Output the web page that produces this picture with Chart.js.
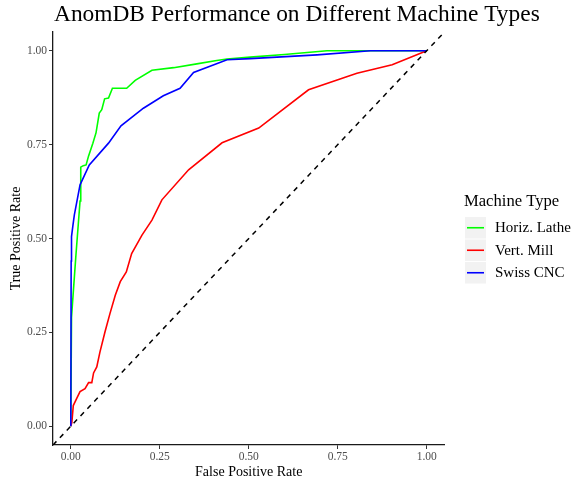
<!DOCTYPE html>
<html>
<head>
<meta charset="utf-8">
<script src="https://cdn.jsdelivr.net/npm/chart.js@4/dist/chart.umd.min.js"></script>
<style>
  html, body { margin: 0; padding: 0; background: #ffffff; }
  #wrap { width: 574px; height: 483px; position: relative; }
</style>
</head>
<body>
<div id="wrap"><canvas id="roc" width="574" height="483"></canvas></div>
<script>
// ROC curves per machine type (false positive rate vs true positive rate)
const chartTitle = 'AnomDB Performance on Different Machine Types';
const legendTitle = 'Machine Type';
const seriesNames = ['Horiz. Lathe', 'Vert. Mill', 'Swiss CNC'];
const seriesColors = ['#00FF00', '#FF0000', '#0000FF'];

const latheFpr = [0, 0.002, 0.014, 0.026, 0.028, 0.035, 0.043, 0.050, 0.062, 0.071, 0.080, 0.087, 0.095, 0.106, 0.117, 0.157, 0.181, 0.228, 0.289, 0.354, 0.410, 0.439, 0.504, 0.600, 0.720, 1.0];
const latheTpr = [0, 0.290, 0.450, 0.600, 0.690, 0.694, 0.696, 0.720, 0.754, 0.782, 0.834, 0.843, 0.872, 0.874, 0.900, 0.900, 0.921, 0.948, 0.955, 0.965, 0.974, 0.978, 0.983, 0.990, 1.0, 1.0];

const millFpr = [0, 0.003, 0.007, 0.017, 0.026, 0.040, 0.050, 0.059, 0.064, 0.073, 0.082, 0.096, 0.110, 0.125, 0.139, 0.156, 0.171, 0.200, 0.228, 0.256, 0.331, 0.425, 0.528, 0.668, 0.804, 0.903, 1.0];
const millTpr = [0, 0.010, 0.055, 0.075, 0.092, 0.100, 0.116, 0.116, 0.142, 0.158, 0.198, 0.251, 0.300, 0.349, 0.385, 0.411, 0.460, 0.509, 0.549, 0.603, 0.683, 0.755, 0.794, 0.896, 0.940, 0.963, 1.0];

const cncFpr = [0, 0.001, 0.002, 0.006, 0.010, 0.026, 0.052, 0.106, 0.141, 0.204, 0.260, 0.307, 0.345, 0.439, 0.504, 0.692, 0.842, 1.0];
const cncTpr = [0, 0.440, 0.505, 0.535, 0.563, 0.643, 0.696, 0.754, 0.800, 0.847, 0.880, 0.900, 0.942, 0.976, 0.979, 0.989, 1.0, 1.0];

// chance diagonal, spanning the padded axis range
const chanceX = [-0.05, 1.05];
const chanceY = [-0.05, 1.05];

const axisTicks = [0, 0.25, 0.5, 0.75, 1.0];

const toPoints = (xs, ys) => xs.map((x, i) => ({ x: x, y: ys[i] }));
const fprs = [latheFpr, millFpr, cncFpr];
const tprs = [latheTpr, millTpr, cncTpr];

const SERIF = "'Liberation Serif', 'DejaVu Serif', serif";

const datasets = seriesNames.map((name, i) => ({
  label: name,
  data: toPoints(fprs[i], tprs[i]),
  borderColor: seriesColors[i],
  backgroundColor: seriesColors[i],
  borderWidth: 1.6,
  showLine: true,
  pointRadius: 0,
  tension: 0,
  order: 10 - i
}));
datasets.push({
  label: 'chance',
  data: toPoints(chanceX, chanceY),
  borderColor: '#000000',
  borderWidth: 1.5,
  borderDash: [5, 5],
  showLine: true,
  pointRadius: 0,
  order: 0
});

// title aligned with the panel's left edge
const panelTitle = {
  id: 'panelTitle',
  afterDraw(chart) {
    const ctx = chart.ctx;
    ctx.save();
    ctx.fillStyle = '#000';
    ctx.font = `23.4px ${SERIF}`;
    ctx.textAlign = 'left';
    ctx.textBaseline = 'alphabetic';
    ctx.fillText(chartTitle, chart.chartArea.left + 1, 21);
    ctx.restore();
  }
};

// legend drawn in the right margin with grey key boxes
const sideLegend = {
  id: 'sideLegend',
  afterDraw(chart) {
    const ctx = chart.ctx;
    const x0 = 464;
    ctx.save();
    ctx.fillStyle = '#000';
    ctx.font = `16.6px ${SERIF}`;
    ctx.textBaseline = 'middle';
    ctx.textAlign = 'left';
    ctx.fillText(legendTitle, x0, 202);
    const keyTop = 217, keyH = 21.5, keyW = 21;
    chart.data.datasets.slice(0, seriesNames.length).forEach((ds, i) => {
      const y = keyTop + i * (keyH + 1);
      ctx.fillStyle = '#F2F2F2';
      ctx.fillRect(x0 + 1, y, keyW, keyH);
      ctx.strokeStyle = ds.borderColor;
      ctx.lineWidth = 1.6;
      ctx.beginPath();
      ctx.moveTo(x0 + 3, y + keyH / 2);
      ctx.lineTo(x0 + keyW - 1, y + keyH / 2);
      ctx.stroke();
      ctx.fillStyle = '#000';
      ctx.font = `15px ${SERIF}`;
      ctx.fillText(ds.label, 495, y + keyH / 2 + 0.5);
    });
    ctx.restore();
  }
};

const tickFont = { family: SERIF, size: 11.5 };

new Chart(document.getElementById('roc'), {
  type: 'scatter',
  data: { datasets },
  options: {
    responsive: false,
    animation: false,
    layout: { padding: { left: 0, right: 129.5, top: 32, bottom: 0 } },
    plugins: {
      legend: { display: false },
      tooltip: { enabled: false },
      title: { display: false }
    },
    scales: {
      x: {
        type: 'linear',
        min: -0.05,
        max: 1.05,
        afterBuildTicks: (s) => { s.ticks = axisTicks.map(v => ({ value: v })); },
        afterFit: (s) => { s.height = 38; },
        ticks: {
          color: '#4D4D4D',
          font: tickFont,
          padding: 1,
          maxRotation: 0,
          callback: (v) => Number(v).toFixed(2)
        },
        grid: { drawOnChartArea: false, drawTicks: true, tickLength: 4, color: '#333333' },
        border: { display: true, color: '#1a1a1a', width: 1.3 },
        title: {
          display: true,
          text: 'False Positive Rate',
          color: '#000',
          font: { family: SERIF, size: 14 },
          padding: { top: 0, bottom: 2.5 }
        }
      },
      y: {
        type: 'linear',
        min: -0.05,
        max: 1.05,
        afterBuildTicks: (s) => { s.ticks = axisTicks.map(v => ({ value: v })); },
        afterFit: (s) => { s.width = 53; },
        ticks: {
          color: '#4D4D4D',
          font: tickFont,
          padding: 2,
          callback: (v) => Number(v).toFixed(2)
        },
        grid: { drawOnChartArea: false, drawTicks: true, tickLength: 4, color: '#333333' },
        border: { display: true, color: '#1a1a1a', width: 1.3 },
        title: {
          display: true,
          text: 'True Positive Rate',
          color: '#000',
          font: { family: SERIF, size: 14 },
          padding: { top: 7.6, bottom: 0 }
        }
      }
    }
  },
  plugins: [panelTitle, sideLegend]
});
</script>
</body>
</html>
